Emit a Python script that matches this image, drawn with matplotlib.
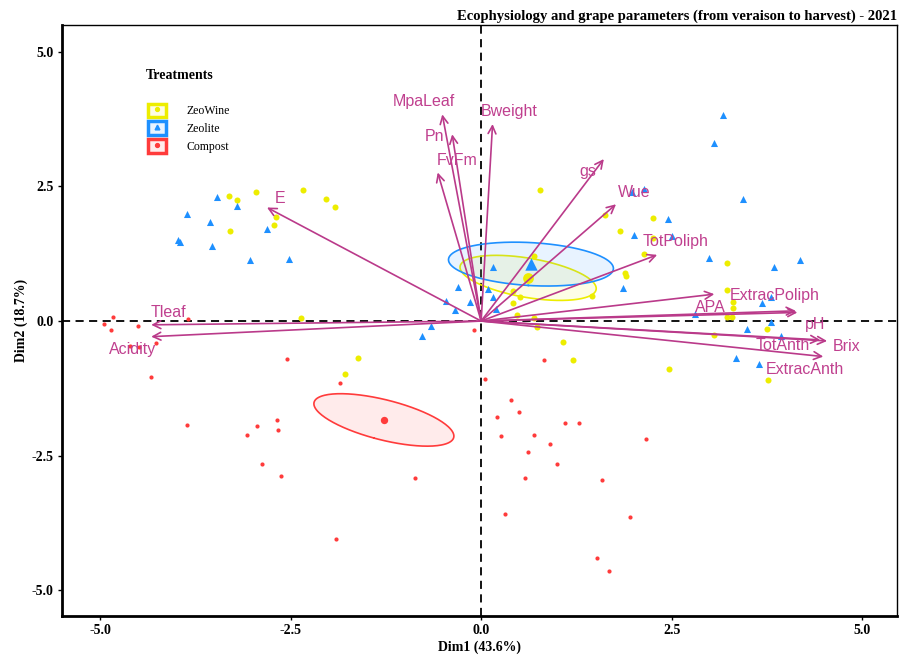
"""
PCA biplot: ecophysiology and grape parameters (veraison to harvest), 2021.
"""

import numpy as np
import matplotlib
matplotlib.use("Agg")
import matplotlib.pyplot as plt
from matplotlib.patches import Rectangle
from matplotlib.lines import Line2D
from matplotlib.legend_handler import HandlerTuple

# ── Data (individual scores on Dim1 / Dim2) ──────────────────────────────────

ZEOWINE_X = [-3.31, -3.21, -2.96, -2.34, -2.04, -1.92, -2.69, -2.72, -3.29, -2.37,
             -1.62, -1.79, 0.69, 0.42, 0.51, 0.42, 0.47, 0.69, 0.73, 1.08,
             1.20, 2.47, 1.46, 1.63, 1.82, 2.14, 1.89, 1.90, 0.77, 2.25,
             2.25, 3.22, 3.22, 3.31, 3.30, 3.22, 3.29, 3.75, 3.06, 3.76]
ZEOWINE_Y = [2.33, 2.25, 2.39, 2.43, 2.27, 2.12, 1.93, 1.78, 1.67, 0.05,
             -0.69, -0.99, 1.21, 0.56, 0.45, 0.34, 0.12, 0.06, -0.11, -0.38,
             -0.72, -0.89, 0.46, 1.97, 1.68, 1.24, 0.90, 0.84, 2.43, 1.91,
             1.55, 1.08, 0.58, 0.36, 0.25, 0.08, 0.08, -0.15, -0.25, -1.10]

ZEOLITE_X = [-3.47, -3.20, -3.86, -3.56, -2.81, -3.98, -3.95, -3.53, -3.03, -2.52,
             -0.77, -0.66, 0.15, -0.31, 0.09, -0.46, -0.15, 0.15, -0.34, 0.20,
             2.00, 1.98, 2.14, 2.45, 2.51, 1.86, 3.17, 3.06, 3.44, 2.99,
             3.84, 4.19, 3.80, 3.69, 2.81, 3.81, 3.49, 3.93, 3.35, 3.65]
ZEOLITE_Y = [2.31, 2.14, 1.98, 1.84, 1.71, 1.50, 1.46, 1.39, 1.13, 1.15,
             -0.28, -0.09, 1.00, 0.63, 0.59, 0.38, 0.36, 0.45, 0.20, 0.22,
             1.59, 2.40, 2.45, 1.90, 1.58, 0.61, 3.82, 3.30, 2.27, 1.17,
             1.01, 1.13, 0.45, 0.33, 0.14, -0.01, -0.14, -0.27, -0.68, -0.79]

COMPOST_X = [-4.83, -4.95, -4.86, -4.50, -3.85, -4.61, -4.49, -4.27, -4.33, -2.55,
             -1.85, -3.86, -2.68, -2.94, -2.66, -3.07, -2.88, -2.62, -0.87, -1.90,
             -0.10, 0.82, 0.05, 0.39, 0.50, 0.21, 1.10, 1.29, 0.26, 0.70,
             0.90, 2.17, 0.62, 1.00, 0.57, 1.58, 0.31, 1.95, 1.52, 1.68]
COMPOST_Y = [0.07, -0.05, -0.17, -0.09, 0.04, -0.46, -0.48, -0.41, -1.04, -0.71,
             -1.15, -1.93, -1.83, -1.95, -2.03, -2.12, -2.65, -2.88, -2.92, -4.05,
             -0.17, -0.72, -1.07, -1.46, -1.69, -1.79, -1.90, -1.90, -2.14, -2.11,
             -2.29, -2.19, -2.43, -2.66, -2.91, -2.95, -3.59, -3.64, -4.41, -4.65]

# variable loadings (arrow tips, scaled)
VAR_NAMES = ["MpaLeaf", "Pn", "FvFm", "Bweight", "gs", "Wue", "TotPoliph", "E",
             "Tleaf", "Acidity", "APA", "ExtracPoliph", "pH", "TotAnth", "Brix", "ExtracAnth"]
VAR_X = [-0.51, -0.38, -0.57, 0.15, 1.61, 1.77, 2.31, -2.81,
         -4.33, -4.33, 3.06, 4.13, 4.15, 4.45, 4.54, 4.49]
VAR_Y = [3.84, 3.47, 2.76, 3.66, 3.01, 2.17, 1.23, 2.11,
         -0.07, -0.29, 0.50, 0.19, 0.16, -0.35, -0.37, -0.66]

DIM1_PCT = 43.6
DIM2_PCT = 18.7

# ── Style ─────────────────────────────────────────────────────────────────────

GROUPS = [
    ("ZeoWine", ZEOWINE_X, ZEOWINE_Y, "#EDED00", "o", 19, 60),
    ("Zeolite", ZEOLITE_X, ZEOLITE_Y, "#1E90FF", "^", 26, 80),
    ("Compost", COMPOST_X, COMPOST_Y, "#FF3B3B", "o", 9, 28),
]
ARROW_COL = "#BA3A8A"
LABEL_COL = "#C0408F"

# label offset from arrow tip, in pixels (right, up) -- repel-like placement
LABEL_OFFSET = {
    "MpaLeaf": (-18, 13), "Pn": (-18, -2), "FvFm": (19, 12), "Bweight": (17, 13),
    "gs": (-16, -12), "Wue": (18, 12), "TotPoliph": (18, 13), "E": (13, 9),
    "Tleaf": (17, 12), "Acidity": (-19, -13), "APA": (-4, -13),
    "ExtracPoliph": (-21, 15), "pH": (18, -12), "TotAnth": (-37, -6),
    "Brix": (19, -6), "ExtracAnth": (-18, -13),
}

plt.rcParams["font.family"] = ["Liberation Serif", "DejaVu Serif"]

CHI2_95 = 5.991  # qchisq(0.95, 2)


def conf_ellipse(x, y, n_pts=200):
    """95% confidence ellipse around the group barycentre."""
    x, y = np.asarray(x), np.asarray(y)
    centre = np.array([x.mean(), y.mean()])
    cov = np.cov(x, y) / len(x)
    vals, vecs = np.linalg.eigh(cov)
    t = np.linspace(0, 2 * np.pi, n_pts)
    circ = np.vstack([np.cos(t), np.sin(t)])
    pts = vecs @ (np.sqrt(vals * CHI2_95)[:, None] * circ)
    return centre, pts[0] + centre[0], pts[1] + centre[1]


# ── Plot ──────────────────────────────────────────────────────────────────────

fig = plt.figure(figsize=(8.99, 6.57), dpi=100)
ax = fig.add_axes([0.069, 0.0624, 0.929, 0.8995])

ax.axhline(0, color="black", lw=1.3, ls=(0, (4.5, 3)), zorder=1)
ax.axvline(0, color="black", lw=1.3, ls=(0, (4.5, 3)), zorder=1)

handles = []
for name, gx, gy, col, mk, s, s_mean in GROUPS:
    centre, ex, ey = conf_ellipse(gx, gy)
    ax.fill(ex, ey, color=col, alpha=0.1, lw=0, zorder=2)
    ax.plot(ex, ey, color=col, lw=1.2, zorder=2)
    ax.scatter(gx, gy, s=s, marker=mk, color=col, lw=0, zorder=3)
    ax.scatter([centre[0]], [centre[1]], s=s_mean, marker=mk, color=col, lw=0, zorder=3)
    box = Rectangle((0, 0), 1, 1, facecolor=matplotlib.colors.to_rgba(col, 0.1),
                    edgecolor=col, lw=2.5)
    dot = Line2D([], [], marker=mk, color=col, ls="", ms=3.4 if mk == "^" else 2.8)
    handles.append(((box, dot), name))

for name, vx, vy in zip(VAR_NAMES, VAR_X, VAR_Y):
    ax.annotate("", xy=(vx, vy), xytext=(0, 0),
                arrowprops=dict(arrowstyle="->", color=ARROW_COL, lw=1.2,
                                mutation_scale=14, shrinkA=0, shrinkB=0),
                zorder=4)
    dx, dy = LABEL_OFFSET[name]
    ax.annotate(name, xy=(vx, vy), xytext=(dx * 0.72, dy * 0.72),
                textcoords="offset points", ha="center", va="center",
                color=LABEL_COL, fontsize=11.5, family="Liberation Sans", zorder=5)

ax.set_xlim(-5.5, 5.46)
ax.set_ylim(-5.48, 5.5)
ax.set_xticks([-5.0, -2.5, 0.0, 2.5, 5.0])
ax.set_yticks([-5.0, -2.5, 0.0, 2.5, 5.0])
ax.set_xticklabels([f"{v:.1f}" for v in ax.get_xticks()], fontweight="bold", fontsize=10)
ax.set_yticklabels([f"{v:.1f}" for v in ax.get_yticks()], fontweight="bold", fontsize=10)
ax.tick_params(direction="out", length=3, width=1, pad=3)
ax.set_xlabel(f"Dim1 ({DIM1_PCT}%)", fontweight="bold", fontsize=10, labelpad=2)
ax.set_ylabel(f"Dim2 ({DIM2_PCT}%)", fontweight="bold", fontsize=10, labelpad=3)
for side in ["left", "bottom"]:
    ax.spines[side].set_linewidth(2)
for side in ["top", "right"]:
    ax.spines[side].set_linewidth(1)

ax.set_title("Ecophysiology and grape parameters (from veraison to harvest) - 2021",
             loc="right", fontweight="bold", fontsize=10.5, pad=4)

ax.text(0.10, 0.915, "Treatments", transform=ax.transAxes, fontweight="bold",
        fontsize=10, ha="left", va="center")
leg = ax.legend([h for h, _ in handles], [n for _, n in handles],
                handler_map={tuple: HandlerTuple(ndivide=1, pad=0)},
                loc="upper left", bbox_to_anchor=(0.09, 0.885), frameon=False,
                fontsize=8.5, handlelength=1.5, handleheight=1.4,
                handletextpad=1.8, labelspacing=0.35)

fig.savefig("out.png", dpi=100)
